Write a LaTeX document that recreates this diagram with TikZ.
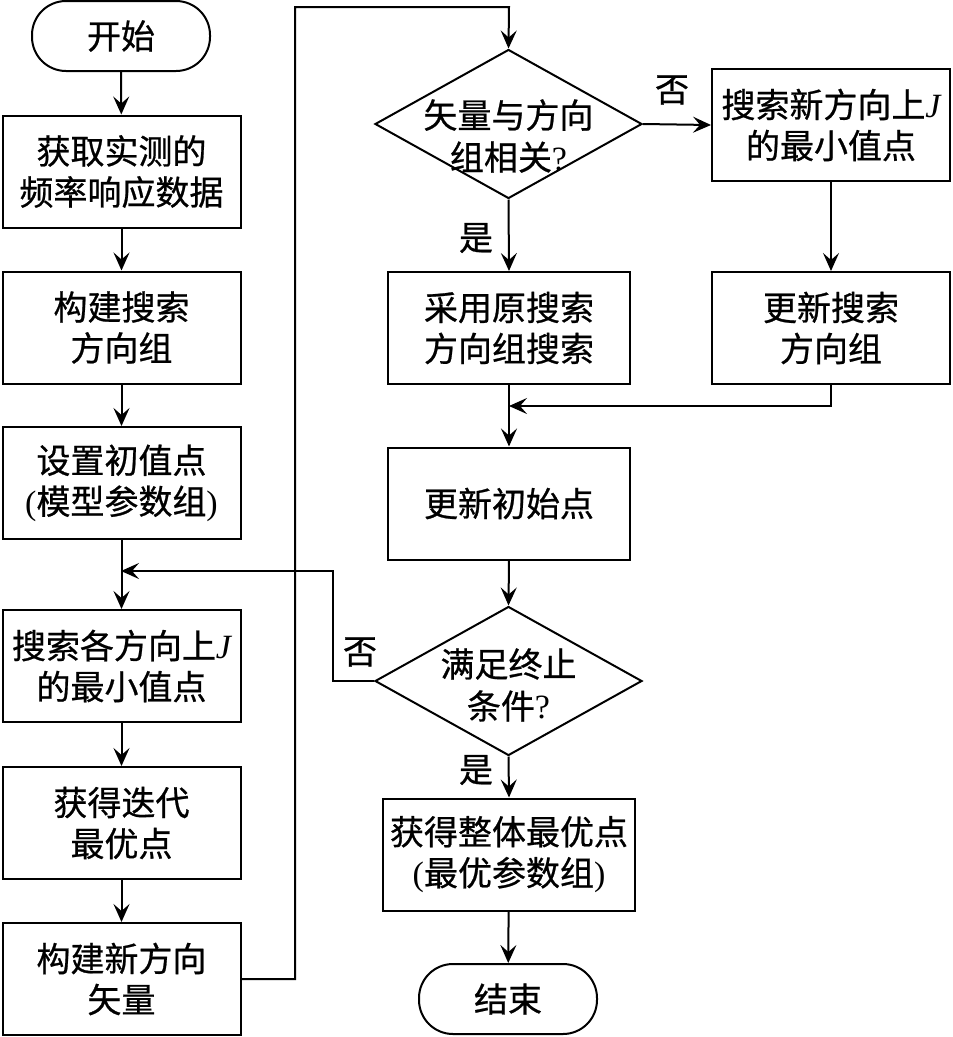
\documentclass[tikz,border=0pt]{standalone}
\usepackage{fontspec}
\setmainfont[FakeBold=0.7]{Noto Sans CJK SC}
\newfontfamily\lat{Liberation Serif}
\usetikzlibrary{shapes.geometric,arrows.meta}
\newcommand{\jj}{{\lat\itshape J}}
\begin{document}
\begin{tikzpicture}[x=1pt,y=-1pt,
  every node/.style={inner sep=0pt,align=center,font=\fontsize{34}{41}\selectfont},
  procbox/.style={draw,line width=2pt,rectangle,minimum width=#1,minimum height=112pt},
  procbox/.default=238pt,
  term/.style={draw,line width=2pt,rectangle,rounded corners=34pt,minimum width=178pt,minimum height=70pt},
  decision/.style={draw,line width=2pt,diamond,aspect=1.78,minimum width=267pt,minimum height=149pt},
  dtext/.style={font=\fontsize{34}{42}\selectfont},
  conn/.style={line width=2pt,-{Stealth[length=18pt,width=16pt,inset=7pt]}},
  lbl/.style={font=\fontsize{34}{41}\selectfont}]
\useasboundingbox (0,0) rectangle (953,1037);
% left column
\node[term] (start) at (121,36) {开始};
\node[procbox] (b1) at (121.5,171.5) {获取实测的\\频率响应数据};
\node[procbox] (b2) at (121.5,327.5) {构建搜索\\方向组};
\node[procbox] (b3) at (121.5,483) {设置初值点\\{\lat (}模型参数组{\lat )}};
\node[procbox] (b4) at (121.5,666) {搜索各方向上\jj\\的最小值点};
\node[procbox] (b5) at (121.5,823) {获得迭代\\最优点};
\node[procbox] (b6) at (121.5,979) {构建新方向\\矢量};
% middle column
\node[decision] (d1) at (508.5,124) {};
\node[dtext] (d1t) at (508.5,136) {矢量与方向\\组相关{\lat ?}};
\node[procbox=242pt] (b7) at (509,328) {采用原搜索\\方向组搜索};
\node[procbox=242pt] (b8) at (509,503.5) {更新初始点};
\node[decision] (d2) at (508.5,681) {};
\node[dtext] (d2t) at (508.5,685) {满足终止\\条件{\lat ?}};
\node[procbox=252pt] (b9) at (509,854.5) {获得整体最优点\\{\lat (}最优参数组{\lat )}};
\node[term] (end) at (508,999) {结束};
% right column
\node[procbox] (r1) at (831,125) {搜索新方向上\jj\\的最小值点};
\node[procbox] (r2) at (831,328) {更新搜索\\方向组};
% helper coordinates
\coordinate (m1) at (509,406);
\coordinate (m2) at (121,571);
\coordinate (p1) at (295,979);
\coordinate (p2) at (295,7);
\coordinate (p3) at (509,7);
\coordinate (q1) at (831,406);
\coordinate (s1) at (333,681);
\coordinate (s2) at (333,571);
% connectors
\draw[conn] (start) -- (b1);
\draw[conn] (b1) -- (b2);
\draw[conn] (b2) -- (b3);
\draw[conn] (b3) -- (b4);
\draw[conn] (b4) -- (b5);
\draw[conn] (b5) -- (b6);
\draw[conn] (b6.east) -- (p1) -- (p2) -- (p3) -- (d1.north);
\draw[conn] (d1.east) -- (r1.west);
\draw[conn] (d1.south) -- (b7.north);
\draw[conn] (r1) -- (r2);
\draw[conn] (r2.south) -- (q1) -- (m1);
\draw[conn] (b7) -- (b8);
\draw[conn] (b8.south) -- (d2.north);
\draw[conn] (d2.west) -- (s1) -- (s2) -- (m2);
\draw[conn] (d2.south) -- (b9.north);
\draw[conn] (b9) -- (end);
% labels
\node[lbl] (no1) at (672,90) {否};
\node[lbl] (yes1) at (476,238) {是};
\node[lbl] (no2) at (360,652) {否};
\node[lbl] (yes2) at (476,770) {是};
\end{tikzpicture}
\end{document}
